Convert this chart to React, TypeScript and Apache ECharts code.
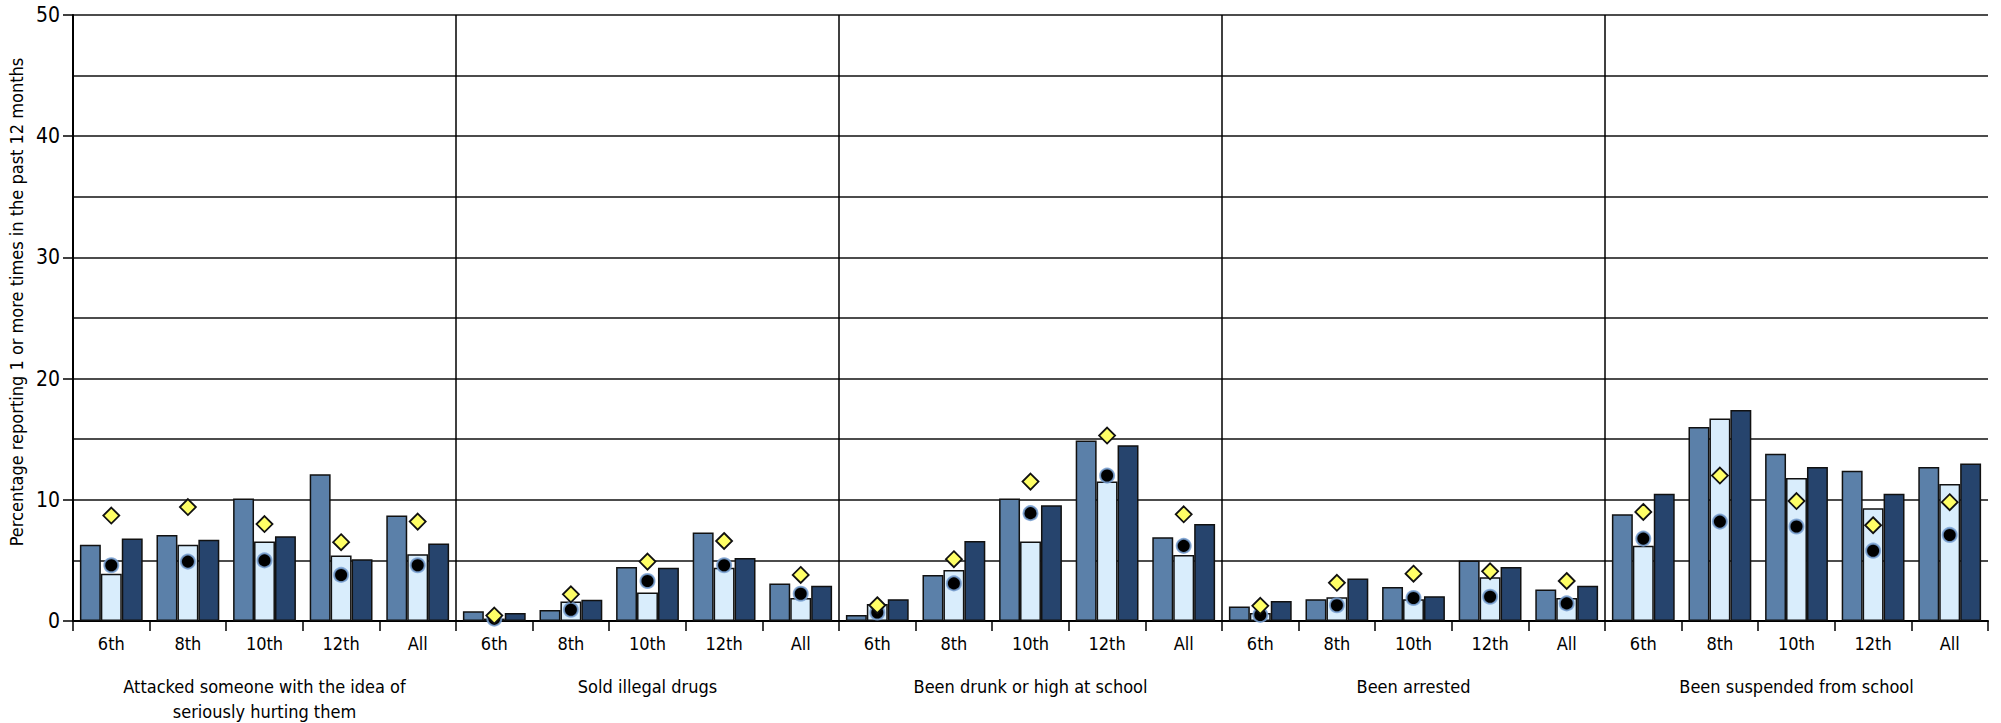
import React, { useEffect, useRef } from "react";
import * as echarts from "echarts";

const grades = ["6th", "8th", "10th", "12th", "All"];
const groups = [
  "Attacked someone with the idea of\nseriously hurting them",
  "Sold illegal drugs",
  "Been drunk or high at school",
  "Been arrested",
  "Been suspended from school",
];
const categories = groups.flatMap(() => grades);

const seriesA = [6.3, 7.1, 10.1, 12.1, 8.7, 0.8, 0.9, 4.45, 7.3, 3.1, 0.5, 3.8, 10.1, 14.9, 6.9, 1.2, 1.8, 2.8, 5.0, 2.6, 8.8, 16.0, 13.8, 12.4, 12.7];
const seriesB = [3.9, 6.3, 6.55, 5.4, 5.5, 0.2, 1.6, 2.35, 4.4, 1.9, 1.4, 4.2, 6.55, 11.5, 5.45, 0.65, 1.95, 1.8, 3.6, 1.9, 6.2, 16.7, 11.8, 9.3, 11.3];
const seriesC = [6.8, 6.7, 7.0, 5.1, 6.4, 0.65, 1.75, 4.4, 5.2, 2.9, 1.8, 6.6, 9.55, 14.5, 8.0, 1.65, 3.5, 2.05, 4.45, 2.9, 10.5, 17.4, 12.7, 10.5, 13.0];
const diamonds = [8.7, 9.4, 8.0, 6.5, 8.2, 0.45, 2.2, 4.9, 6.6, 3.8, 1.3, 5.1, 11.5, 15.3, 8.8, 1.25, 3.15, 3.9, 4.1, 3.3, 9.0, 12.0, 9.9, 7.9, 9.8];
const circles = [4.6, 4.9, 5.0, 3.8, 4.6, 0.2, 0.93, 3.3, 4.6, 2.25, 0.7, 3.1, 8.9, 12.0, 6.2, 0.5, 1.3, 1.9, 2.0, 1.45, 6.8, 8.2, 7.8, 5.8, 7.1];

const FONT = "'Liberation Sans Narrow', 'DejaVu Sans Condensed', 'Liberation Sans', sans-serif";

export default function App() {
  const ref = useRef<HTMLDivElement>(null);
  useEffect(() => {
    if (!ref.current) return;
    const chart = echarts.init(ref.current, null, { renderer: "svg" });
    const barStyle = (color: string) => ({
      color,
      borderColor: "#111",
      borderWidth: 1.5,
    });
    chart.setOption({
      animation: false,
      backgroundColor: "#fff",
      textStyle: { fontFamily: FONT },
      grid: {
        left: 73,
        right: 13,
        top: 15,
        bottom: 102,
        containLabel: false,
        outerBoundsMode: "none",
      },
      xAxis: [
        {
          type: "category",
          data: categories,
          position: "bottom",
          axisLine: { show: true, lineStyle: { color: "#000", width: 2 } },
          axisTick: { show: true, length: 10, lineStyle: { color: "#000", width: 1.5 } },
          axisLabel: { margin: 13, fontSize: 18, color: "#000", fontFamily: FONT, interval: 0 },
          splitLine: { show: false },
        },
        {
          type: "category",
          data: groups,
          position: "bottom",
          axisLine: { show: false },
          axisTick: { show: false },
          axisLabel: {
            margin: 53,
            fontSize: 18,
            lineHeight: 25,
            color: "#000",
            fontFamily: FONT,
            interval: 0,
            align: "center",
          },
          splitLine: {
            show: true,
            showMinLine: false,
            showMaxLine: false,
            lineStyle: { color: "#000", width: 1.5 },
          },
        },
      ],
      yAxis: {
        type: "value",
        min: 0,
        max: 50,
        interval: 10,
        name: "Percentage reporting 1 or more times in the past 12 months",
        nameLocation: "middle",
        nameGap: 45,
        nameRotate: 90,
        nameTextStyle: { fontSize: 18, color: "#000", fontFamily: FONT, padding: [0, 0, 0, 32] },
        axisLine: { show: true, lineStyle: { color: "#000", width: 2 } },
        axisTick: { show: true, length: 10, lineStyle: { color: "#000", width: 1.5 } },
        axisLabel: { margin: 13, fontSize: 21, color: "#000", fontFamily: FONT },
        splitLine: { show: true, lineStyle: { color: "#111", width: 1.5 } },
        minorTick: { show: false, splitNumber: 2 },
        minorSplitLine: { show: true, lineStyle: { color: "#111", width: 1.5 } },
      },
      series: [
        {
          name: "Series A",
          type: "bar",
          data: seriesA,
          barGap: "0%",
          barCategoryGap: "18%",
          itemStyle: barStyle("#5b80a9"),
        },
        {
          name: "Series B",
          type: "bar",
          data: seriesB,
          barGap: "0%",
          barCategoryGap: "18%",
          itemStyle: barStyle("#d9edfc"),
        },
        {
          name: "Series C",
          type: "bar",
          data: seriesC,
          barGap: "0%",
          barCategoryGap: "18%",
          itemStyle: barStyle("#26446d"),
        },
        {
          name: "Circle marker",
          type: "scatter",
          data: circles,
          symbol: "circle",
          symbolSize: 14,
          z: 5,
          itemStyle: { color: "#000", borderColor: "rgba(120,160,210,0.85)", borderWidth: 2, opacity: 1 },
        },
        {
          name: "Diamond marker",
          type: "scatter",
          data: diamonds,
          symbol: "diamond",
          symbolSize: [16, 16],
          z: 6,
          itemStyle: { color: "#ffff66", borderColor: "#111", borderWidth: 1.8, opacity: 1 },
        },
      ],
    });
    return () => chart.dispose();
  }, []);
  return (
    <div
      ref={ref}
      style={{ position: "absolute", left: 0, top: 0, width: 2001, height: 723, background: "#fff" }}
    />
  );
}
